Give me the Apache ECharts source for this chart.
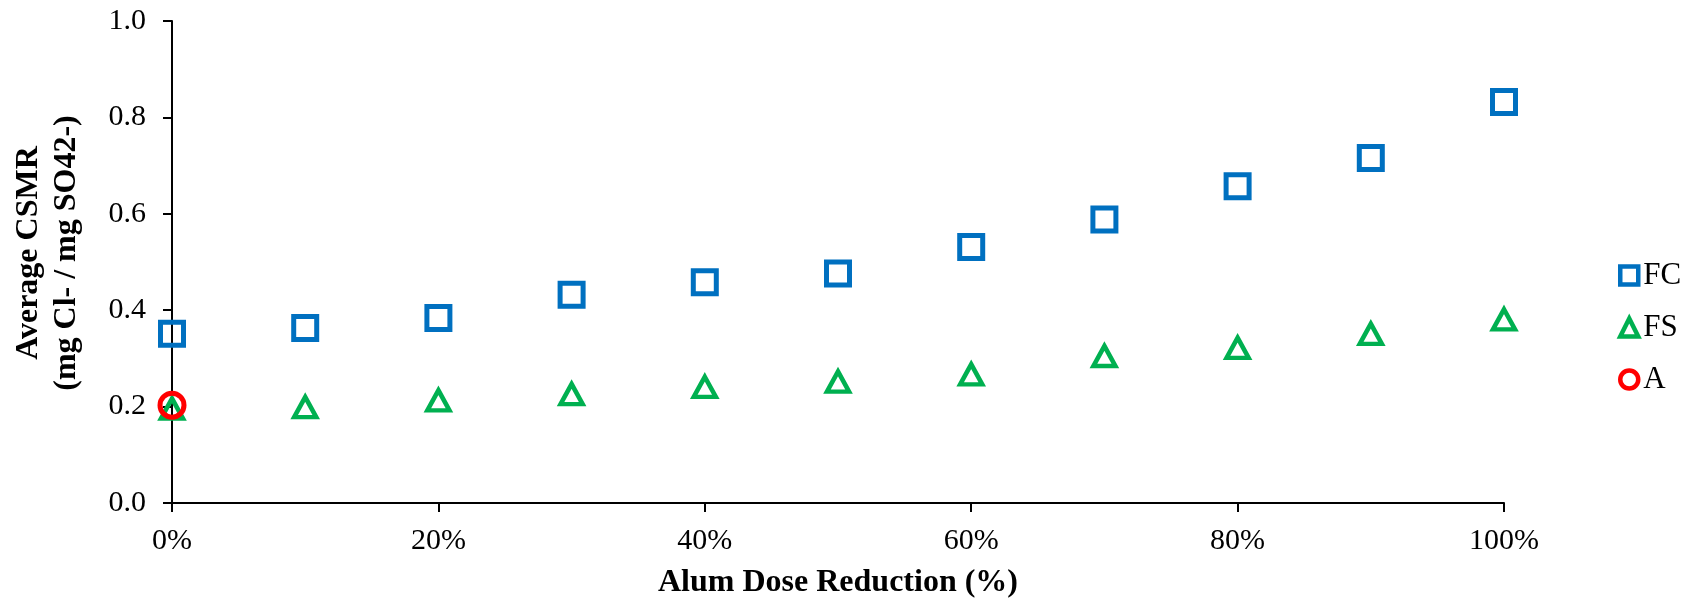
<!DOCTYPE html>
<html>
<head>
<meta charset="utf-8">
<script src="https://cdn.jsdelivr.net/npm/echarts@6/dist/echarts.min.js"></script>
<style>
html,body{margin:0;padding:0;background:#fff;}
#chart{width:1690px;height:604px;}
</style>
</head>
<body>
<div id="chart"></div>
<script>
// Alum dose reduction (%) – x positions
const doseReduction = [0, 10, 20, 30, 40, 50, 60, 70, 80, 90, 100];
// Average CSMR values per series
const fcValues = [0.351, 0.363, 0.384, 0.432, 0.458, 0.476, 0.531, 0.588, 0.657, 0.716, 0.832];
const fsValues = [0.196, 0.199, 0.213, 0.226, 0.241, 0.252, 0.267, 0.305, 0.322, 0.351, 0.381];
const aDose = [0];
const aValues = [0.203];
// axis tick settings
const xTicks = [0, 20, 40, 60, 80, 100];
const yTicks = [0.0, 0.2, 0.4, 0.6, 0.8, 1.0];

const FONT = '"Liberation Serif", "Times New Roman", serif';
const pair = (xs, ys) => xs.map((x, i) => [x, ys[i]]);

const chart = echarts.init(document.getElementById('chart'), null, {renderer: 'canvas'});
chart.setOption({
  backgroundColor: '#ffffff',
  animation: false,
  grid: {left: 172, right: 186, top: 21, bottom: 100, containLabel: false},
  legend: {
    orient: 'vertical',
    left: 1613,
    top: 255,
    itemGap: 21,
    itemWidth: 18,
    itemHeight: 18,
    itemStyle: {borderWidth: 4.5, opacity: 1},
    textStyle: {fontFamily: FONT, fontSize: 31, color: '#000', lineHeight: 30},
    data: ['FC', 'FS', 'A']
  },
  xAxis: {
    type: 'value',
    min: xTicks[0],
    max: xTicks[xTicks.length - 1],
    interval: 20,
    name: 'Alum Dose Reduction (%)',
    nameLocation: 'middle',
    nameGap: 64,
    nameTextStyle: {fontFamily: FONT, fontSize: 32, fontWeight: 'bold', color: '#000'},
    axisLine: {show: true, lineStyle: {color: '#000', width: 2}},
    axisTick: {show: true, inside: false, length: 9, lineStyle: {color: '#000', width: 2}},
    axisLabel: {margin: 23, fontFamily: FONT, fontSize: 30, color: '#000', formatter: v => v + '%'},
    splitLine: {show: false}
  },
  yAxis: {
    type: 'value',
    min: yTicks[0],
    max: yTicks[yTicks.length - 1],
    interval: 0.2,
    name: 'Average CSMR\n(mg Cl- / mg SO42-)',
    nameLocation: 'middle',
    nameGap: 86,
    nameRotate: 90,
    nameTextStyle: {fontFamily: FONT, fontSize: 32, fontWeight: 'bold', color: '#000', lineHeight: 38, padding: [0, 0, 0, 18]},
    axisLine: {show: true, lineStyle: {color: '#000', width: 2}},
    axisTick: {show: true, inside: false, length: 9, lineStyle: {color: '#000', width: 2}},
    axisLabel: {margin: 26, fontFamily: FONT, fontSize: 30, color: '#000', formatter: v => v.toFixed(1)},
    splitLine: {show: false}
  },
  series: [
    {
      name: 'FC', type: 'scatter', symbol: 'rect', symbolSize: 23,
      itemStyle: {color: 'rgba(255,255,255,0)', borderColor: '#0070C0', borderWidth: 5, opacity: 1},
      data: pair(doseReduction, fcValues)
    },
    {
      name: 'FS', type: 'scatter', symbol: 'triangle', symbolSize: [22, 20],
      itemStyle: {color: 'rgba(255,255,255,0)', borderColor: '#00B050', borderWidth: 4.5, opacity: 1},
      data: pair(doseReduction, fsValues)
    },
    {
      name: 'A', type: 'scatter', symbol: 'circle', symbolSize: 24,
      itemStyle: {color: 'rgba(255,255,255,0)', borderColor: '#FF0000', borderWidth: 5, opacity: 1},
      data: pair(aDose, aValues)
    }
  ]
});
</script>
</body>
</html>
